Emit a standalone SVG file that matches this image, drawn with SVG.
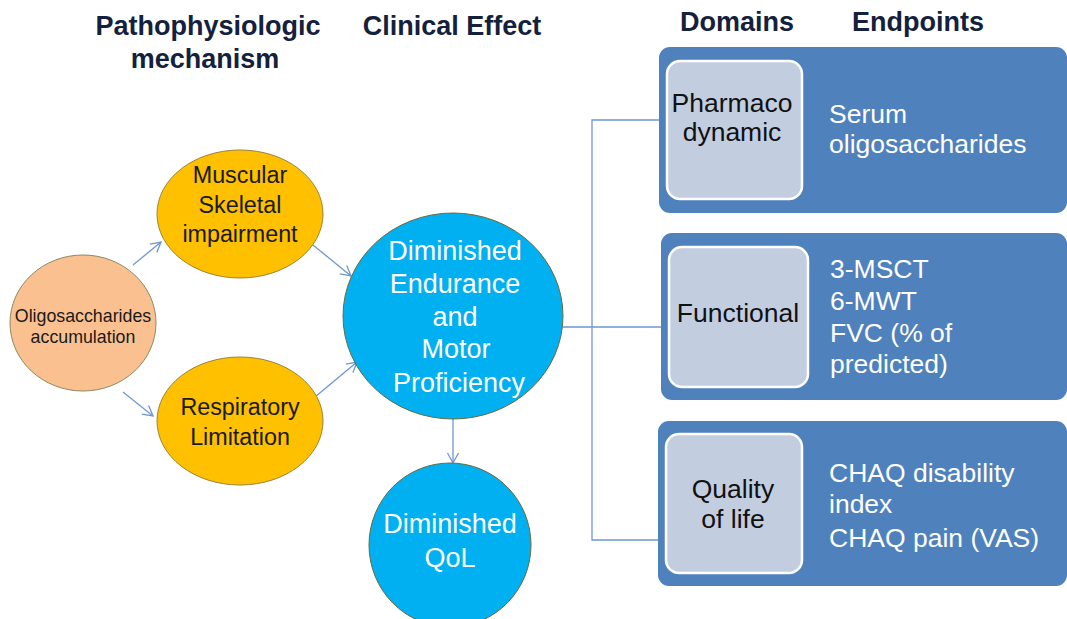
<svg xmlns="http://www.w3.org/2000/svg" width="1067" height="619" viewBox="0 0 1067 619">
<style>
.hdr{font-family:"Liberation Sans",Arial,sans-serif;font-weight:bold;font-size:27px;fill:#14213D;text-anchor:middle}
.dk{font-family:"Liberation Sans",Arial,sans-serif;fill:#1a1a1a;text-anchor:middle}
.wh{font-family:"Liberation Sans",Arial,sans-serif;fill:#ffffff;text-anchor:middle}
.ep{font-family:"Liberation Sans",Arial,sans-serif;fill:#ffffff;font-size:26.5px}
.dom{font-family:"Liberation Sans",Arial,sans-serif;fill:#111111;font-size:26.5px;text-anchor:middle}
.outer{fill:#4F81BD}
.inner{fill:#C3CDE0;stroke:#ffffff;stroke-width:2.5}
.conn{fill:none;stroke:#6E96D2;stroke-width:1.3}
.arr{fill:none;stroke:#6E96D2;stroke-width:1.3;marker-end:url(#ah)}
</style>
<defs>
<marker id="ah" markerWidth="14" markerHeight="14" refX="11" refY="7" orient="auto" markerUnits="userSpaceOnUse">
<path d="M1,1.5 L11,7 L1,12.5" fill="none" stroke="#6E96D2" stroke-width="1.3"/>
</marker>
</defs>
<rect width="1067" height="619" fill="#ffffff"/>
<g id="headers">
<text class="hdr" x="208" y="35">Pathophysiologic</text>
<text class="hdr" x="205" y="68">mechanism</text>
<text class="hdr" x="452" y="35">Clinical Effect</text>
<text class="hdr" x="737" y="31">Domains</text>
<text class="hdr" x="918" y="31">Endpoints</text>
</g>
<g id="connectors">
<line class="arr" x1="133" y1="265" x2="161" y2="242"/>
<line class="arr" x1="123" y1="392" x2="153" y2="416"/>
<line class="arr" x1="313" y1="245" x2="351" y2="276"/>
<line class="arr" x1="315" y1="397" x2="357" y2="362"/>
<line class="arr" x1="453" y1="418" x2="453" y2="463"/>
<polyline class="conn" points="563,327 662,327"/>
<polyline class="conn" points="660,120 592,120 592,540 660,540"/>
</g>
<g id="oligo">
<ellipse cx="83" cy="323" rx="73" ry="68" fill="#FAC090" stroke="#8A8A62" stroke-width="1"/>
<text class="dk" font-size="17.8" x="83" y="322">Oligosaccharides</text>
<text class="dk" font-size="17.8" x="83" y="343">accumulation</text>
</g>
<g id="muscular">
<ellipse cx="240" cy="214" rx="83" ry="64" fill="#FFC000" stroke="#9A8436" stroke-width="1"/>
<text class="dk" font-size="23.3" x="240" y="183">Muscular</text>
<text class="dk" font-size="23.3" x="240" y="213">Skeletal</text>
<text class="dk" font-size="23.3" x="240" y="242">impairment</text>
</g>
<g id="respiratory">
<ellipse cx="240" cy="421" rx="83" ry="64" fill="#FFC000" stroke="#9A8436" stroke-width="1"/>
<text class="dk" font-size="23.3" x="240" y="415">Respiratory</text>
<text class="dk" font-size="23.3" x="240" y="445">Limitation</text>
</g>
<g id="endurance">
<ellipse cx="453" cy="316" rx="110" ry="103" fill="#00B0F0" stroke="#6B6B3A" stroke-width="1"/>
<text class="wh" font-size="27" x="455" y="260">Diminished</text>
<text class="wh" font-size="27" x="455" y="293">Endurance</text>
<text class="wh" font-size="27" x="455" y="326">and</text>
<text class="wh" font-size="27" x="456" y="358">Motor</text>
<text class="wh" font-size="27" x="459" y="392">Proficiency</text>
</g>
<g id="qol">
<ellipse cx="450" cy="545" rx="81" ry="82" fill="#00B0F0" stroke="#6B6B3A" stroke-width="1"/>
<text class="wh" font-size="27" x="450" y="533">Diminished</text>
<text class="wh" font-size="27" x="450" y="567">QoL</text>
</g>
<g id="pd">
<rect class="outer" x="659" y="47" width="408" height="166" rx="11"/>
<rect class="inner" x="667" y="61" width="135" height="138" rx="13"/>
<text class="dom" x="732" y="112">Pharmaco</text>
<text class="dom" x="732" y="141">dynamic</text>
<text class="ep" x="829" y="123">Serum</text>
<text class="ep" x="829" y="153">oligosaccharides</text>
</g>
<g id="functional">
<rect class="outer" x="661" y="233" width="406" height="167" rx="11"/>
<rect class="inner" x="669" y="247" width="139" height="140" rx="13"/>
<text class="dom" x="738" y="322">Functional</text>
<text class="ep" x="830" y="278">3-MSCT</text>
<text class="ep" x="830" y="310">6-MWT</text>
<text class="ep" x="830" y="342">FVC (% of</text>
<text class="ep" x="830" y="373">predicted)</text>
</g>
<g id="qualityoflife">
<rect class="outer" x="658" y="421" width="409" height="165" rx="11"/>
<rect class="inner" x="666" y="434" width="136" height="139" rx="13"/>
<text class="dom" x="733" y="498">Quality</text>
<text class="dom" x="733" y="528">of life</text>
<text class="ep" x="829" y="482">CHAQ disability</text>
<text class="ep" x="829" y="513">index</text>
<text class="ep" x="829" y="547">CHAQ pain (VAS)</text>
</g>
</svg>
